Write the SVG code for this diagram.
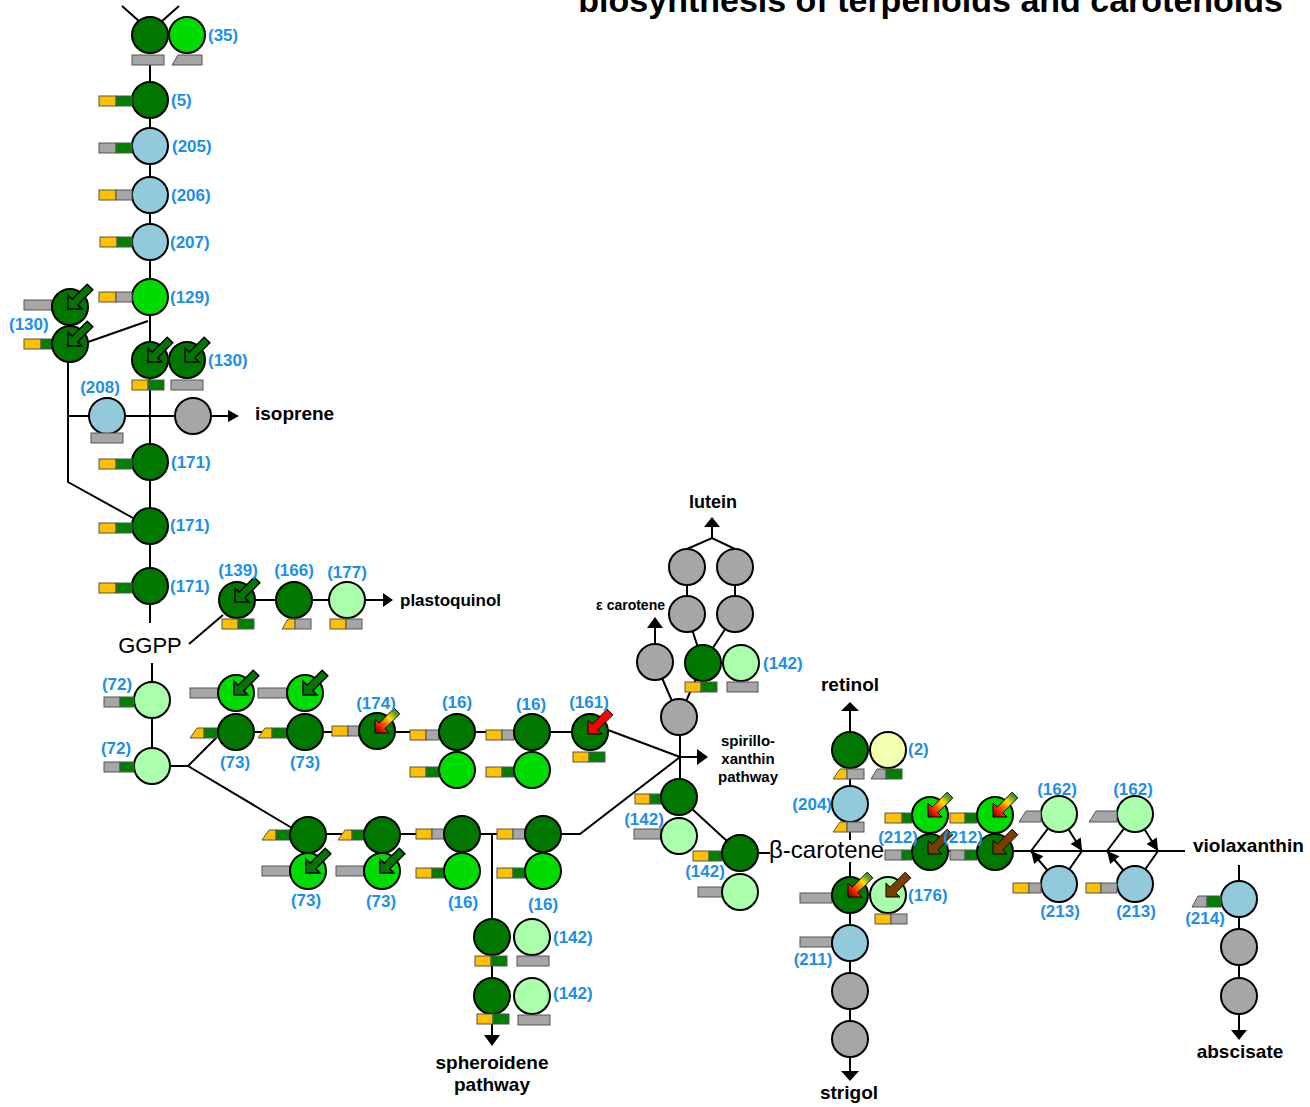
<svg xmlns="http://www.w3.org/2000/svg" xmlns:xlink="http://www.w3.org/1999/xlink" width="1310" height="1107" viewBox="0 0 1310 1107">
<style>
.c{stroke:#000;stroke-width:2}
.dg{fill:#007800}.bg{fill:#00DC00}.lg{fill:#AAFFAA}.lb{fill:#92CADC}.gy{fill:#A6A6A6}.py{fill:#F5FFB0}
.b{stroke:#555;stroke-width:1}
.o{fill:#FFC000}.g{fill:#008000}.s{fill:#A6A6A6}
.ln{stroke:#000;stroke-width:2;fill:none}
.ah{fill:#000}
.lbl{font-family:"Liberation Sans",Arial,sans-serif;font-size:17px;font-weight:bold;fill:#1C8FE8}
.t{font-family:"Liberation Sans",Arial,sans-serif;font-weight:bold;fill:#000}
.ag{fill:#007800;stroke:#000;stroke-width:1.5}
.ar{fill:#FF0000;stroke:#000;stroke-width:1}
.ab{fill:#7A3E00;stroke:#000;stroke-width:1}
.agr{fill:url(#gr);stroke:#000;stroke-width:1}
</style>
<defs>
<linearGradient id="gr" x1="0" y1="1" x2="1" y2="0">
<stop offset="0" stop-color="#6B0000"/>
<stop offset="0.25" stop-color="#FF2000"/>
<stop offset="0.45" stop-color="#FF9000"/>
<stop offset="0.6" stop-color="#FFE000"/>
<stop offset="0.8" stop-color="#60A020"/>
<stop offset="1" stop-color="#007800"/>
</linearGradient>
<path id="ar" d="M-2,2 L-2,-12 L2.2,-7.8 L17.2,-22.8 L22.8,-17.2 L7.8,-2.2 L12,2 Z"/>
</defs>
<rect width="1310" height="1107" fill="#fff"/>

<g id="connectors">
<path class="ln" d="M122,6 L140,22 M179,6 L161,22"/>
<path class="ln" d="M150,65 V623"/>
<path class="ln" d="M152,663 V766"/>
<path class="ln" d="M88,342 L148,321"/>
<path class="ln" d="M68,344 V482 L133,518"/>
<path class="ln" d="M68,416 H229"/>
<polygon class="ah" points="228,410 239,416 228,422"/>
<path class="ln" d="M189,644 L223,615"/>
<path class="ln" d="M237,600 H384"/>
<polygon class="ah" points="383,593 393,600 383,607"/>
<path class="ln" d="M152,766 H188 L219,735 M188,766 L292,828"/>
<path class="ln" d="M236,732 H590"/>
<path class="ln" d="M608,730 L680,757"/>
<path class="ln" d="M308,834 H580 L680,757"/>
<path class="ln" d="M492,834 V1036"/>
<polygon class="ah" points="484,1035 500,1035 492,1046"/>
<path class="ln" d="M680,717 V797 M680,757 H698"/>
<polygon class="ah" points="697,749 708,757 697,765"/>
<path class="ln" d="M679,717 L655,662 M679,717 L703,663"/>
<path class="ln" d="M655,662 V628"/>
<polygon class="ah" points="647,628 663,628 655,617"/>
<path class="ln" d="M687,614 L703,663 M735,614 L703,663 M687,567 V614 M735,567 V614 M687,549 L712,538 L735,549 M712,538 V526"/>
<polygon class="ah" points="704,527 720,527 712,517"/>
<path class="ln" d="M679,797 L740,853 M758,853 H770"/>
<path class="ln" d="M850,862 V1072"/>
<polygon class="ah" points="841,1071 859,1071 850,1081"/>
<path class="ln" d="M850,711 V840"/>
<polygon class="ah" points="841,711 859,711 850,702"/>
<path class="ln" d="M888,851 H1185"/>
<path class="ln" d="M1031,851 L1059,814 L1082,851 M1059,884 L1031,851 M1059,884 L1082,851"/>
<polygon class="ah" points="1031,851 1043.4,856.2 1034.2,864"/>
<polygon class="ah" points="1082,851 1080.8,837.6 1070.6,844"/>
<path class="ln" d="M1107,851 L1135,814 L1158,851 M1135,884 L1107,851 M1135,884 L1158,851"/>
<polygon class="ah" points="1107,851 1119.4,856.2 1110.2,864"/>
<polygon class="ah" points="1158,851 1156.8,837.6 1146.6,844"/>
<path class="ln" d="M1239,865 V1031"/>
<polygon class="ah" points="1231,1030 1247,1030 1239,1040"/>
</g>

<g id="n35">
<circle class="c dg" cx="150" cy="35" r="18"/>
<circle class="c bg" cx="187" cy="35" r="18"/>
<rect class="b s" x="132" y="55" width="32" height="10"/>
<polygon class="b s" points="172,65 178,55 202,55 202,65"/>
<text class="lbl" x="208" y="41">(35)</text>
</g>
<g id="n5">
<circle class="c dg" cx="150" cy="100" r="18"/>
<rect class="b o" x="99" y="96" width="17" height="10"/><rect class="b g" x="116" y="96" width="16" height="10"/>
<text class="lbl" x="171" y="106">(5)</text>
</g>
<g id="n205">
<circle class="c lb" cx="150" cy="146" r="18"/>
<rect class="b s" x="99" y="143" width="17" height="10"/><rect class="b g" x="116" y="143" width="16" height="10"/>
<text class="lbl" x="172" y="152">(205)</text>
</g>
<g id="n206">
<circle class="c lb" cx="150" cy="195" r="18"/>
<rect class="b o" x="99" y="190" width="17" height="10"/><rect class="b s" x="116" y="190" width="16" height="10"/>
<text class="lbl" x="171" y="201">(206)</text>
</g>
<g id="n207">
<circle class="c lb" cx="150" cy="242" r="18"/>
<rect class="b o" x="100" y="237" width="17" height="10"/><rect class="b g" x="117" y="237" width="15" height="10"/>
<text class="lbl" x="170" y="248">(207)</text>
</g>
<g id="n129">
<circle class="c bg" cx="150" cy="297" r="18"/>
<rect class="b o" x="99" y="292" width="17" height="10"/><rect class="b s" x="116" y="292" width="16" height="10"/>
<text class="lbl" x="170" y="303">(129)</text>
</g>
<g id="n130L">
<rect class="b s" x="24" y="300" width="28" height="10"/>
<rect class="b o" x="24" y="339" width="17" height="10"/><rect class="b g" x="41" y="339" width="11" height="10"/>
<circle class="c dg" cx="70" cy="307" r="18"/>
<circle class="c dg" cx="70" cy="344" r="18"/>
<use xlink:href="#ar" href="#ar" x="70" y="307" class="ag"/>
<use xlink:href="#ar" href="#ar" x="70" y="344" class="ag"/>
<text class="lbl" x="9" y="330">(130)</text>
</g>
<g id="n130R">
<circle class="c dg" cx="150" cy="360" r="18"/>
<circle class="c dg" cx="187" cy="360" r="18"/>
<use href="#ar" x="150" y="360" class="ag"/>
<use href="#ar" x="187" y="360" class="ag"/>
<rect class="b o" x="132" y="380" width="16" height="10"/><rect class="b g" x="148" y="380" width="16" height="10"/>
<rect class="b s" x="171" y="380" width="32" height="10"/>
<text class="lbl" x="208" y="366">(130)</text>
</g>
<g id="n208">
<circle class="c lb" cx="107" cy="416" r="18"/>
<rect class="b s" x="91" y="433" width="32" height="10"/>
<text class="lbl" x="100" y="393" text-anchor="middle">(208)</text>
</g>
<g id="nIso">
<circle class="c gy" cx="193" cy="416" r="18"/>
</g>
<g id="n171a">
<circle class="c dg" cx="150" cy="462" r="18"/>
<rect class="b o" x="99" y="459" width="17" height="10"/><rect class="b g" x="116" y="459" width="16" height="10"/>
<text class="lbl" x="171" y="468">(171)</text>
</g>
<g id="n171b">
<circle class="c dg" cx="150" cy="526" r="18"/>
<rect class="b o" x="99" y="523" width="17" height="10"/><rect class="b g" x="116" y="523" width="16" height="10"/>
<text class="lbl" x="170" y="531">(171)</text>
</g>
<g id="n171c">
<circle class="c dg" cx="150" cy="586" r="18"/>
<rect class="b o" x="99" y="583" width="17" height="10"/><rect class="b g" x="116" y="583" width="16" height="10"/>
<text class="lbl" x="170" y="592">(171)</text>
</g>
<g id="n139">
<circle class="c dg" cx="237" cy="600" r="18"/>
<use href="#ar" x="237" y="600" class="ag"/>
<rect class="b o" x="222" y="619" width="16" height="10"/><rect class="b g" x="238" y="619" width="16" height="10"/>
<text class="lbl" x="238" y="576" text-anchor="middle">(139)</text>
</g>
<g id="n166">
<circle class="c dg" cx="294" cy="600" r="18"/>
<polygon class="b o" points="282,629 288,619 295,619 295,629"/><rect class="b s" x="295" y="619" width="16" height="10"/>
<text class="lbl" x="294" y="576" text-anchor="middle">(166)</text>
</g>
<g id="n177">
<circle class="c lg" cx="347" cy="600" r="18"/>
<rect class="b o" x="330" y="619" width="16" height="10"/><rect class="b s" x="346" y="619" width="16" height="10"/>
<text class="lbl" x="347" y="578" text-anchor="middle">(177)</text>
</g>
<g id="n72a">
<circle class="c lg" cx="152" cy="700" r="18"/>
<rect class="b s" x="104" y="697" width="16" height="10"/><rect class="b g" x="120" y="697" width="14" height="10"/>
<text class="lbl" x="117" y="690" text-anchor="middle">(72)</text>
</g>
<g id="n72b">
<circle class="c lg" cx="152" cy="766" r="18"/>
<rect class="b s" x="104" y="762" width="16" height="10"/><rect class="b g" x="120" y="762" width="14" height="10"/>
<text class="lbl" x="116" y="754" text-anchor="middle">(72)</text>
</g>
<g id="n73a">
<rect class="b s" x="190" y="688" width="29" height="10"/>
<circle class="c bg" cx="236" cy="693" r="18"/>
<use href="#ar" x="236" y="693" class="ag"/>
<polygon class="b o" points="190,738 197,728 204,728 204,738"/><rect class="b g" x="204" y="728" width="14" height="10"/>
<circle class="c dg" cx="236" cy="732" r="18"/>
<text class="lbl" x="235" y="768" text-anchor="middle">(73)</text>
</g>
<g id="n73b">
<rect class="b s" x="258" y="688" width="29" height="10"/>
<circle class="c bg" cx="305" cy="693" r="18"/>
<use href="#ar" x="305" y="693" class="ag"/>
<polygon class="b o" points="258,738 265,728 272,728 272,738"/><rect class="b g" x="272" y="728" width="15" height="10"/>
<circle class="c dg" cx="305" cy="732" r="18"/>
<text class="lbl" x="305" y="768" text-anchor="middle">(73)</text>
</g>
<g id="n174">
<rect class="b o" x="332" y="726" width="16" height="10"/><rect class="b s" x="348" y="726" width="12" height="10"/>
<circle class="c dg" cx="377" cy="731" r="18"/>
<use href="#ar" x="377" y="731" class="agr"/>
<text class="lbl" x="376" y="709" text-anchor="middle">(174)</text>
</g>
<g id="n16a">
<rect class="b o" x="410" y="730" width="16" height="10"/><rect class="b s" x="426" y="730" width="13" height="10"/>
<rect class="b o" x="410" y="767" width="16" height="10"/><rect class="b g" x="426" y="767" width="13" height="10"/>
<circle class="c dg" cx="457" cy="732" r="18"/>
<circle class="c bg" cx="457" cy="770" r="18"/>
<text class="lbl" x="457" y="708" text-anchor="middle">(16)</text>
</g>
<g id="n16b">
<rect class="b o" x="486" y="730" width="16" height="10"/><rect class="b s" x="502" y="730" width="12" height="10"/>
<rect class="b o" x="486" y="767" width="16" height="10"/><rect class="b g" x="502" y="767" width="12" height="10"/>
<circle class="c dg" cx="532" cy="732" r="18"/>
<circle class="c bg" cx="532" cy="770" r="18"/>
<text class="lbl" x="531" y="710" text-anchor="middle">(16)</text>
</g>
<g id="n161">
<circle class="c dg" cx="590" cy="732" r="18"/>
<use href="#ar" x="590" y="732" class="ar"/>
<rect class="b o" x="573" y="752" width="16" height="10"/><rect class="b g" x="589" y="752" width="16" height="10"/>
<text class="lbl" x="589" y="708" text-anchor="middle">(161)</text>
</g>
<g id="n73c">
<polygon class="b o" points="262,840 269,830 276,830 276,840"/><rect class="b g" x="276" y="830" width="14" height="10"/>
<rect class="b s" x="262" y="866" width="28" height="10"/>
<circle class="c dg" cx="308" cy="835" r="18"/>
<circle class="c bg" cx="308" cy="871" r="18"/>
<use href="#ar" x="308" y="871" class="ag"/>
<text class="lbl" x="306" y="906" text-anchor="middle">(73)</text>
</g>
<g id="n73d">
<polygon class="b o" points="338,840 345,830 352,830 352,840"/><rect class="b g" x="352" y="830" width="12" height="10"/>
<rect class="b s" x="336" y="866" width="28" height="10"/>
<circle class="c dg" cx="382" cy="835" r="18"/>
<circle class="c bg" cx="382" cy="871" r="18"/>
<use href="#ar" x="382" y="871" class="ag"/>
<text class="lbl" x="381" y="907" text-anchor="middle">(73)</text>
</g>
<g id="n16c">
<rect class="b o" x="416" y="829" width="16" height="10"/><rect class="b s" x="432" y="829" width="12" height="10"/>
<rect class="b o" x="416" y="868" width="16" height="10"/><rect class="b g" x="432" y="868" width="12" height="10"/>
<circle class="c dg" cx="462" cy="834" r="18"/>
<circle class="c bg" cx="462" cy="871" r="18"/>
<text class="lbl" x="463" y="908" text-anchor="middle">(16)</text>
</g>
<g id="n16d">
<rect class="b o" x="497" y="829" width="16" height="10"/><rect class="b s" x="513" y="829" width="12" height="10"/>
<rect class="b o" x="497" y="868" width="16" height="10"/><rect class="b g" x="513" y="868" width="12" height="10"/>
<circle class="c dg" cx="543" cy="834" r="18"/>
<circle class="c bg" cx="543" cy="871" r="18"/>
<text class="lbl" x="543" y="910" text-anchor="middle">(16)</text>
</g>
<g id="n142s1">
<circle class="c dg" cx="492" cy="937" r="18"/>
<circle class="c lg" cx="532" cy="937" r="18"/>
<rect class="b o" x="475" y="956" width="16" height="10"/><rect class="b g" x="491" y="956" width="16" height="10"/>
<rect class="b s" x="517" y="956" width="32" height="10"/>
<text class="lbl" x="553" y="943">(142)</text>
</g>
<g id="n142s2">
<circle class="c dg" cx="492" cy="996" r="18"/>
<circle class="c lg" cx="532" cy="996" r="18"/>
<rect class="b o" x="477" y="1014" width="16" height="10"/><rect class="b g" x="493" y="1014" width="16" height="10"/>
<rect class="b s" x="518" y="1015" width="32" height="10"/>
<text class="lbl" x="553" y="999">(142)</text>
</g>
<g id="nSpir">
<circle class="c gy" cx="679" cy="717" r="18"/>
</g>
<g id="nEps">
<circle class="c gy" cx="655" cy="662" r="18"/>
</g>
<g id="nLut">
<circle class="c gy" cx="687" cy="614" r="18"/>
<circle class="c gy" cx="735" cy="614" r="18"/>
<circle class="c gy" cx="687" cy="567" r="18"/>
<circle class="c gy" cx="735" cy="567" r="18"/>
</g>
<g id="n142L">
<circle class="c dg" cx="703" cy="663" r="18"/>
<circle class="c lg" cx="741" cy="663" r="18"/>
<rect class="b o" x="685" y="682" width="16" height="10"/><rect class="b g" x="701" y="682" width="16" height="10"/>
<rect class="b s" x="727" y="682" width="31" height="10"/>
<text class="lbl" x="763" y="669">(142)</text>
</g>
<g id="n142M">
<rect class="b o" x="635" y="794" width="15" height="10"/><rect class="b g" x="650" y="794" width="12" height="10"/>
<rect class="b s" x="634" y="829" width="27" height="10"/>
<circle class="c dg" cx="679" cy="797" r="18"/>
<circle class="c lg" cx="679" cy="836" r="18"/>
<text class="lbl" x="644" y="825" text-anchor="middle">(142)</text>
</g>
<g id="n142B">
<rect class="b o" x="693" y="851" width="16" height="10"/><rect class="b g" x="709" y="851" width="13" height="10"/>
<rect class="b s" x="698" y="887" width="26" height="10"/>
<circle class="c dg" cx="740" cy="853" r="18"/>
<circle class="c lg" cx="740" cy="892" r="18"/>
<text class="lbl" x="705" y="877" text-anchor="middle">(142)</text>
</g>
<g id="n2">
<circle class="c dg" cx="850" cy="750" r="18"/>
<circle class="c py" cx="888" cy="750" r="18"/>
<polygon class="b o" points="833,779 840,769 847,769 847,779"/><rect class="b s" x="847" y="769" width="17" height="10"/>
<polygon class="b s" points="871,779 877,769 886,769 886,779"/><rect class="b g" x="886" y="769" width="16" height="10"/>
<text class="lbl" x="908" y="755">(2)</text>
</g>
<g id="n204">
<circle class="c lb" cx="850" cy="804" r="18"/>
<polygon class="b o" points="833,832 840,822 847,822 847,832"/><rect class="b s" x="847" y="822" width="17" height="10"/>
<text class="lbl" x="832" y="810" text-anchor="end">(204)</text>
</g>
<g id="n212a">
<rect class="b o" x="885" y="813" width="17" height="10"/><rect class="b g" x="902" y="813" width="10" height="10"/>
<rect class="b s" x="885" y="850" width="17" height="10"/><rect class="b g" x="902" y="850" width="10" height="10"/>
<circle class="c bg" cx="930" cy="815" r="18"/>
<use href="#ar" x="930" y="815" class="agr"/>
<circle class="c dg" cx="930" cy="852" r="18"/>
<use href="#ar" x="930" y="852" class="ab"/>
<text class="lbl" x="898" y="843" text-anchor="middle">(212)</text>
</g>
<g id="n212b">
<rect class="b o" x="950" y="813" width="15" height="10"/><rect class="b g" x="965" y="813" width="12" height="10"/>
<rect class="b s" x="950" y="850" width="15" height="10"/><rect class="b g" x="965" y="850" width="12" height="10"/>
<circle class="c bg" cx="995" cy="815" r="18"/>
<use href="#ar" x="995" y="815" class="agr"/>
<circle class="c dg" cx="995" cy="852" r="18"/>
<use href="#ar" x="995" y="852" class="ab"/>
<text class="lbl" x="963" y="843" text-anchor="middle">(212)</text>
</g>
<g id="n162a">
<circle class="c lg" cx="1059" cy="814" r="18"/>
<polygon class="b s" points="1019,822 1026,811 1041,811 1041,822"/>
<text class="lbl" x="1057" y="795" text-anchor="middle">(162)</text>
</g>
<g id="n213a">
<circle class="c lb" cx="1059" cy="884" r="18"/>
<rect class="b o" x="1013" y="883" width="16" height="10"/><rect class="b s" x="1029" y="883" width="12" height="10"/>
<text class="lbl" x="1060" y="917" text-anchor="middle">(213)</text>
</g>
<g id="n162b">
<circle class="c lg" cx="1135" cy="814" r="18"/>
<polygon class="b s" points="1089,822 1096,811 1117,811 1117,822"/>
<text class="lbl" x="1133" y="795" text-anchor="middle">(162)</text>
</g>
<g id="n213b">
<circle class="c lb" cx="1135" cy="884" r="18"/>
<rect class="b o" x="1086" y="883" width="15" height="10"/><rect class="b s" x="1101" y="883" width="16" height="10"/>
<text class="lbl" x="1136" y="917" text-anchor="middle">(213)</text>
</g>
<g id="n214">
<circle class="c lb" cx="1239" cy="899" r="18"/>
<polygon class="b s" points="1192,907 1198,896 1207,896 1207,907"/><rect class="b g" x="1207" y="896" width="14" height="11"/>
<text class="lbl" x="1205" y="924" text-anchor="middle">(214)</text>
</g>
<g id="nAbs">
<circle class="c gy" cx="1239" cy="947" r="18"/>
<circle class="c gy" cx="1239" cy="996" r="18"/>
</g>
<g id="n176">
<rect class="b s" x="800" y="893" width="32" height="10"/>
<circle class="c dg" cx="850" cy="895" r="18"/>
<use href="#ar" x="850" y="895" class="agr"/>
<circle class="c lg" cx="888" cy="895" r="18"/>
<use href="#ar" x="888" y="895" class="ab"/>
<rect class="b o" x="875" y="914" width="16" height="10"/><rect class="b s" x="891" y="914" width="16" height="10"/>
<text class="lbl" x="908" y="901">(176)</text>
</g>
<g id="n211">
<rect class="b s" x="800" y="937" width="32" height="10"/>
<circle class="c lb" cx="850" cy="943" r="18"/>
<text class="lbl" x="813" y="965" text-anchor="middle">(211)</text>
</g>
<g id="nStr">
<circle class="c gy" cx="850" cy="991" r="18"/>
<circle class="c gy" cx="850" cy="1039" r="18"/>
</g>

<g id="labels">
<text class="t" x="1283" y="12" font-size="34" text-anchor="end">biosynthesis of terpenoids and carotenoids</text>
<text class="t" x="255" y="420" font-size="19">isoprene</text>
<text class="t" x="400" y="606" font-size="17">plastoquinol</text>
<text x="150" y="653" font-size="22" text-anchor="middle" font-family="Liberation Sans, Arial, sans-serif">GGPP</text>
<text class="t" x="713" y="508" font-size="18" text-anchor="middle">lutein</text>
<text class="t" x="665" y="610" font-size="14" text-anchor="end">ε carotene</text>
<text class="t" x="748" y="746" font-size="15" text-anchor="middle">spirillo-</text>
<text class="t" x="748" y="764" font-size="15" text-anchor="middle">xanthin</text>
<text class="t" x="748" y="782" font-size="15" text-anchor="middle">pathway</text>
<text class="t" x="492" y="1069" font-size="19" text-anchor="middle">spheroidene</text>
<text class="t" x="492" y="1091" font-size="19" text-anchor="middle">pathway</text>
<text class="t" x="850" y="691" font-size="19" text-anchor="middle">retinol</text>
<text x="769" y="858" font-size="24" font-family="Liberation Sans, Arial, sans-serif">β-carotene</text>
<text class="t" x="1193" y="852" font-size="19">violaxanthin</text>
<text class="t" x="1240" y="1058" font-size="19" text-anchor="middle">abscisate</text>
<text class="t" x="849" y="1099" font-size="19" text-anchor="middle">strigol</text>
</g>
</svg>
